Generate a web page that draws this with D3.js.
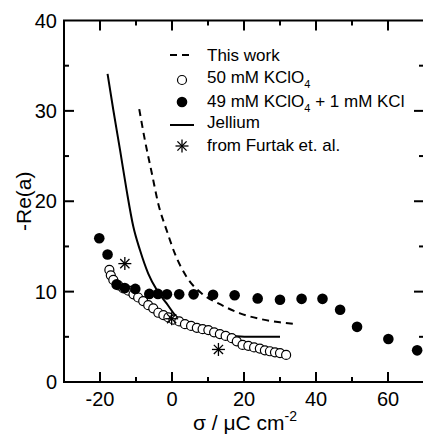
<!DOCTYPE html>
<html>
<head>
<meta charset="utf-8">
<script src="https://cdn.jsdelivr.net/npm/d3@7"></script>
<style>
  body { margin: 0; background: #fff; }
  text { font-family: "Liberation Sans", Arial, sans-serif; fill: #000; }
</style>
</head>
<body>
<div id="chart"></div>
<script>
// data
const thisWork = [[-9.1, 30.2], [-7.5, 26.7], [-5.6, 23.1], [-3.8, 19.7], [-1.5, 16.8], [0.8, 14.2], [4.1, 11.6], [8.25, 9.8], [12.9, 8.7], [18.9, 7.6], [25.4, 6.9], [30, 6.6], [34.6, 6.4]]
const open50 = [[-17.4, 12.4], [-17, 11.8], [-16.3, 11.3], [-14.9, 10.7], [-13.5, 10.35], [-12.1, 10.1], [-10.7, 9.7], [-9.4, 9.35], [-8, 8.95], [-6.6, 8.5], [-5.2, 8.15], [-3.8, 7.66], [-2.4, 7.4], [-1, 7.15], [0.4, 6.9], [2, 6.7], [3.6, 6.4], [5.3, 6.2], [6.9, 6.0], [8.5, 5.85], [10.1, 5.75], [11.7, 5.5], [13.3, 5.3], [14.9, 5.1], [16.6, 4.85], [18, 4.5], [19.6, 4.1], [21.2, 4.0], [22.8, 3.83], [24.4, 3.7], [25.8, 3.5], [27.2, 3.4], [28.6, 3.28], [30, 3.2], [31.7, 3.0]]
const filled49 = [[-20.2, 15.9], [-17.9, 14.1], [-15.4, 10.8], [-13.1, 10.4], [-10.2, 10.3], [-6.3, 9.75], [-3.9, 9.75], [-1.4, 9.7], [2, 9.7], [6, 9.7], [11.4, 9.65], [17.4, 9.6], [23.8, 9.25], [30, 9.1], [36, 9.2], [41.8, 9.2], [46.7, 8.0], [51.4, 6.1], [60.1, 4.75], [68.1, 3.5]]
const jellium = [[-17.9, 34.1], [-16.3, 30.1], [-14.4, 25.6], [-12.6, 21.2], [-10.75, 17.2], [-8.9, 14.6], [-6.6, 12.0], [-4.25, 10.2], [-1.5, 8.7], [1.3, 7.2], [4.1, 6.4], [7.8, 5.8], [12.4, 5.3], [17, 5.1], [23, 5.0], [30, 5.0]]
const furtak = [[-13.1, 13.1], [-0.1, 7.0], [12.9, 3.6]]

const xTicks = [-20, 0, 20, 40, 60]
const yTicks = [0, 10, 20, 30, 40]

const width = 423
const height = 437
const margin = { left: 64, right: -1, top: 20.5, bottom: 55 }

const svg = d3.select('#chart').append('svg')
  .attr('width', width)
  .attr('height', height)

const x = d3.scaleLinear().domain([-30, 70]).range([margin.left, width - margin.right])
const y = d3.scaleLinear().domain([0, 40]).range([height - margin.bottom, margin.top])

const x0 = x.range()[0]
const x1 = x.range()[1]
const y0 = y.range()[0]
const y1 = y.range()[1]

// frame
svg.append('rect')
  .attr('x', x0).attr('y', y1)
  .attr('width', x1 - x0).attr('height', y0 - y1)
  .attr('fill', 'none').attr('stroke', '#000').attr('stroke-width', 2)

// ticks (inward, on all sides)
const minorX = d3.range(-30, 71, 10).filter(d => !xTicks.includes(d))
const minorY = d3.range(0, 41, 5).filter(d => !yTicks.includes(d))
const tickG = svg.append('g').attr('stroke', '#000').attr('stroke-width', 2)
const addX = (vals, len) => {
  vals.forEach(v => {
    tickG.append('line').attr('x1', x(v)).attr('x2', x(v)).attr('y1', y0).attr('y2', y0 - len)
    tickG.append('line').attr('x1', x(v)).attr('x2', x(v)).attr('y1', y1).attr('y2', y1 + len)
  })
}
const addY = (vals, len) => {
  vals.forEach(v => {
    tickG.append('line').attr('x1', x0).attr('x2', x0 + len).attr('y1', y(v)).attr('y2', y(v))
    tickG.append('line').attr('x1', x1).attr('x2', x1 - len).attr('y1', y(v)).attr('y2', y(v))
  })
}
addX(xTicks, 10)
addX(minorX, 5)
addY(yTicks.filter(d => d > 0 && d < 40), 10)
addY(minorY, 5)

// tick labels
svg.append('g').selectAll('text').data(xTicks).join('text')
  .attr('x', d => x(d)).attr('y', y0 + 24)
  .attr('text-anchor', 'middle').attr('font-size', 20)
  .text(d => d)
svg.append('g').selectAll('text').data(yTicks).join('text')
  .attr('x', x0 - 7).attr('y', d => y(d) + 7)
  .attr('text-anchor', 'end').attr('font-size', 20)
  .text(d => d)

// axis titles
const xt = svg.append('text')
  .attr('x', 245).attr('y', 430)
  .attr('text-anchor', 'middle').attr('font-size', 21)
xt.append('tspan').text('σ / μC cm')
xt.append('tspan').attr('dy', -9).attr('font-size', 14).text('-2')

svg.append('text')
  .attr('transform', `translate(31,${(y0 + y1) / 2}) rotate(-90)`)
  .attr('text-anchor', 'middle').attr('font-size', 21)
  .text('-Re(a)')

const line = d3.line().x(d => x(d[0])).y(d => y(d[1])).curve(d3.curveMonotoneX)

svg.append('path').datum(thisWork)
  .attr('d', line).attr('fill', 'none')
  .attr('stroke', '#000').attr('stroke-width', 2).attr('stroke-dasharray', '7,5')

svg.append('path').datum(jellium)
  .attr('d', line)
  .attr('fill', 'none').attr('stroke', '#000').attr('stroke-width', 2)

svg.append('g').selectAll('circle').data(open50).join('circle')
  .attr('cx', d => x(d[0])).attr('cy', d => y(d[1])).attr('r', 4.5)
  .attr('fill', '#fff').attr('stroke', '#000').attr('stroke-width', 1.2)

svg.append('g').selectAll('circle').data(filled49).join('circle')
  .attr('cx', d => x(d[0])).attr('cy', d => y(d[1])).attr('r', 5.3)
  .attr('fill', '#000')

const star = (g, cx, cy, r) => {
  [0, 45, 90, 135].forEach(a => {
    const t = a * Math.PI / 180
    g.append('line')
      .attr('x1', cx - r * Math.cos(t)).attr('y1', cy - r * Math.sin(t))
      .attr('x2', cx + r * Math.cos(t)).attr('y2', cy + r * Math.sin(t))
      .attr('stroke', '#000').attr('stroke-width', 1.3)
  })
}
const starG = svg.append('g')
furtak.forEach(d => star(starG, x(d[0]), y(d[1]), 6.5))

// legend
const lg = svg.append('g').attr('font-size', 17)
const lx = 170
const tx = 207
lg.append('line').attr('x1', lx).attr('x2', lx + 24).attr('y1', 55).attr('y2', 55)
  .attr('stroke', '#000').attr('stroke-width', 2).attr('stroke-dasharray', '7,5')
lg.append('text').attr('x', tx).attr('y', 61).text('This work')

lg.append('circle').attr('cx', 182).attr('cy', 80).attr('r', 4.5)
  .attr('fill', '#fff').attr('stroke', '#000').attr('stroke-width', 1.2)
const t2 = lg.append('text').attr('x', tx).attr('y', 83)
t2.append('tspan').text('50 mM KClO')
t2.append('tspan').attr('dy', 5).attr('font-size', 11).text('4')

lg.append('circle').attr('cx', 182).attr('cy', 102).attr('r', 5.3).attr('fill', '#000')
const t3 = lg.append('text').attr('x', tx).attr('y', 107)
t3.append('tspan').text('49 mM KClO')
t3.append('tspan').attr('dy', 5).attr('font-size', 11).text('4')
t3.append('tspan').attr('dy', -5).text(' + 1 mM KCl')

lg.append('line').attr('x1', lx).attr('x2', lx + 24).attr('y1', 125).attr('y2', 125)
  .attr('stroke', '#000').attr('stroke-width', 2)
lg.append('text').attr('x', tx).attr('y', 128).text('Jellium')

star(lg, 182, 146, 6.5)
lg.append('text').attr('x', tx).attr('y', 151).text('from Furtak et. al.')
</script>
</body>
</html>
